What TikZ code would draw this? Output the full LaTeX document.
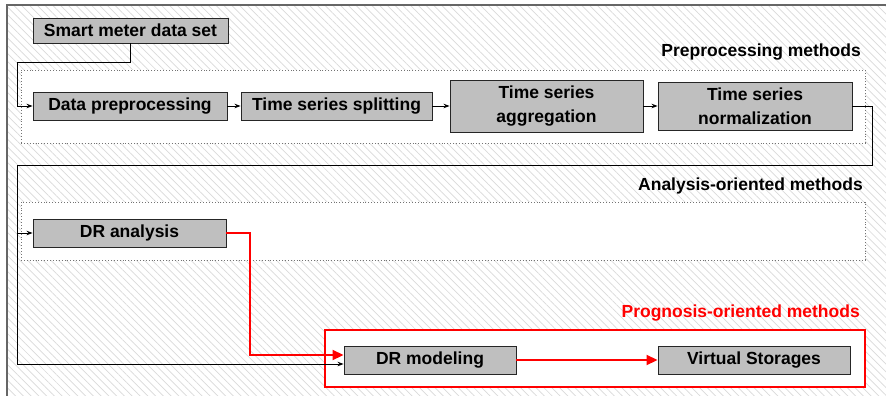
\documentclass[tikz,border=0pt]{standalone}
\usepackage{fontspec}
\setmainfont{Liberation Sans}
\usetikzlibrary{patterns.meta,arrows.meta}
\begin{document}
\begin{tikzpicture}[x=1pt,y=-1pt,
  txt/.style={font=\bfseries\fontsize{17.5}{23.5}\selectfont},
  box/.style={txt, draw=black!85, fill=black!25, line width=0.9pt, inner sep=0pt, align=center},
  grp/.style={draw=black!55, dotted, fill=white, line width=0.9pt, inner sep=0pt},
  lbl/.style={txt, anchor=east, inner sep=0pt},
  conn/.style={black, line width=0.9pt, -{Stealth[length=6pt,width=4.5pt]}},
  rconn/.style={red, line width=1.8pt, -{Stealth[length=11pt,width=10pt,inset=0pt]}}
]
\useasboundingbox (0,0) rectangle (886,396);
% background hatching and frame
\fill[pattern={Lines[angle=-45,distance=5.5pt,line width=0.7pt]}, pattern color=black!15] (7,5) rectangle (886,396);
\draw[black!60, line width=1.8pt] (7,396) -- (7,5) -- (886,5);

% groups
\node[grp, minimum width=844pt, minimum height=73pt] (g1) at (443,106.5) {};
\node[grp, minimum width=844pt, minimum height=58pt] (g2) at (443,231) {};
\node[draw=red, line width=1.8pt, fill=white, inner sep=0pt, minimum width=540pt, minimum height=57pt] (g3) at (595,358.5) {};

% labels
\node[lbl] (l1) at (861,52) {Preprocessing methods};
\node[lbl] (l2) at (863,186) {Analysis-oriented methods};
\node[lbl, text=red] (l3) at (860,313) {Prognosis-oriented methods};

% boxes
\node[box, minimum width=195pt, minimum height=25pt] (sm) at (130.5,30.5) {Smart meter data set};
\node[box, minimum width=194pt, minimum height=28pt] (dp) at (130,106) {Data preprocessing};
\node[box, minimum width=191pt, minimum height=28pt] (ts) at (336.5,106) {Time series splitting};
\node[box, minimum width=193pt, minimum height=52pt] (ta) at (546.5,106) {Time series\\aggregation};
\node[box, minimum width=194pt, minimum height=48pt] (tn) at (755,106) {Time series\\normalization};
\node[box, minimum width=193pt, minimum height=28pt] (da) at (129.5,233) {DR analysis};
\node[box, minimum width=172pt, minimum height=28pt] (dm) at (430,360) {DR modeling};
\node[box, minimum width=192pt, minimum height=28pt] (vs) at (754,360) {Virtual Storages};

% connectors
\coordinate (c1) at (17,62);
\coordinate (c2) at (872,165);
\coordinate (c3) at (17,165);
\coordinate (c4) at (250,300);
\draw[conn] (sm.south) |- (c1) |- (dp.west);
\draw[conn] (dp) -- (ts);
\draw[conn] (ts) -- (ta);
\draw[conn] (ta) -- (tn);
\draw[conn] (tn.east) -| (c2) -- (c3) |- (da.west);
\draw[conn] (c3) |- ([yshift=-4pt]dm.west);
\draw[rconn] (da.east) -| (c4) |- ([yshift=5pt]dm.west);
\draw[rconn] (dm) -- (vs);
\end{tikzpicture}
\end{document}
